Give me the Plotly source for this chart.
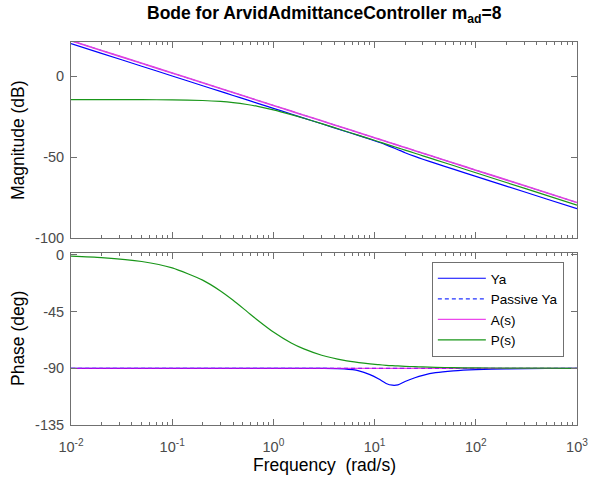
import plotly.graph_objects as go

# ---------------- data ----------------
freq = [0.01, 0.02, 0.05, 0.1, 0.2, 0.3, 0.4, 0.55, 0.7, 1, 1.5, 2, 3, 5, 7, 9,
        11, 13, 15, 17, 20, 25, 30, 40, 60, 100, 200, 500, 1000]

ya_mag = [20.2, 14.18, 6.22, 0.2, -5.82, -9.34, -11.84, -14.61, -16.7, -19.8,
          -23.32, -25.82, -29.34, -33.78, -36.7, -38.93, -40.78, -42.38, -43.92,
          -45.36, -47.22, -49.51, -51.24, -53.84, -57.41, -61.85, -67.87, -75.83, -81.85]
passive_mag = [22.0, 15.98, 8.02, 2.0, -4.02, -7.54, -10.04, -12.81, -14.9, -18.0,
               -21.52, -24.02, -27.54, -31.98, -34.9, -37.08, -38.83, -40.28, -41.52,
               -42.61, -44.02, -45.96, -47.54, -50.04, -53.56, -58.0, -64.02, -71.98, -78.0]
a_mag = [22.0, 15.98, 8.02, 2.0, -4.02, -7.54, -10.04, -12.81, -14.9, -18.0,
         -21.52, -24.02, -27.54, -31.98, -34.9, -37.08, -38.83, -40.28, -41.52,
         -42.61, -44.02, -45.96, -47.54, -50.04, -53.56, -58.0, -64.02, -71.98, -78.0]
p_mag = [-14.4, -14.41, -14.44, -14.55, -14.95, -15.54, -16.25, -17.42, -18.59, -20.75,
         -23.67, -25.94, -29.29, -33.63, -36.53, -38.7, -40.44, -41.89, -43.13,
         -44.21, -45.62, -47.56, -49.14, -51.64, -55.16, -59.6, -65.62, -73.58, -79.6]

ya_phase = [-90.0, -90.0, -90.0, -90.0, -90.0, -90.0, -90.0, -90.0, -90.0, -90.0,
            -90.0, -90.0, -90.1, -90.5, -92.0, -95.0, -98.5, -102.0, -103.4,
            -103.1, -100.5, -97.5, -95.6, -93.5, -92.0, -91.0, -90.4, -90.15, -90.1]
passive_phase = [-90.0, -90.0, -90.0, -90.0, -90.0, -90.0, -90.0, -90.0, -90.0, -90.0,
                 -90.0, -90.0, -90.0, -90.0, -90.0, -90.0, -90.0, -90.0, -90.0,
                 -90.0, -90.0, -90.0, -90.0, -90.0, -90.0, -90.0, -90.0, -90.0, -90.0]
a_phase = [-90.0, -90.0, -90.0, -90.0, -90.0, -90.0, -90.0, -90.0, -90.0, -90.0,
           -90.0, -90.0, -90.0, -90.0, -90.0, -90.0, -90.0, -90.0, -90.0,
           -90.0, -90.0, -90.0, -90.0, -90.0, -90.0, -90.0, -90.0, -90.0, -90.0]
p_phase = [-1.0, -2.1, -5.2, -10.3, -20.0, -28.6, -36.0, -45.0, -51.8, -61.2,
           -69.9, -74.6, -79.6, -83.7, -85.5, -86.5, -87.1, -87.6, -87.9,
           -88.1, -88.4, -88.7, -88.9, -89.2, -89.5, -89.7, -89.8, -89.9, -90.0]

series_names = ["Ya", "Passive Ya", "A(s)", "P(s)"]

x_tickvals = [0.01, 0.1, 1, 10, 100, 1000]
x_ticktext = ["10<sup>-2</sup>", "10<sup>-1</sup>", "10<sup>0</sup>",
              "10<sup>1</sup>", "10<sup>2</sup>", "10<sup>3</sup>"]
mag_tickvals = [-100, -50, 0]
mag_ticktext = ["-100", "-50", "0"]
phase_tickvals = [-135, -90, -45, 0]
phase_ticktext = ["-135", "-90", "-45", "0"]

# ---------------- styling ----------------
FONT = "Liberation Sans, Arial, sans-serif"
AX = "#707070"
TK = "#4a4a4a"
mag_styles = [
    dict(color="#0000FF", width=1.2, dash="solid"),
    dict(color="#2233FF", width=1.0, dash="4px,3px"),
    dict(color="#E040E0", width=1.6, dash="solid"),
    dict(color="rgb(25,150,25)", width=1.2, dash="solid"),
]
phase_styles = [
    dict(color="#0000FF", width=1.2, dash="solid"),
    dict(color="#2233FF", width=1.2, dash="4px,3px"),
    dict(color="rgba(228,0,228,0.72)", width=1.3, dash="solid"),
    dict(color="rgb(25,150,25)", width=1.2, dash="solid"),
]

fig = go.Figure()
mags = [ya_mag, passive_mag, a_mag, p_mag]
phases = [ya_phase, passive_phase, a_phase, p_phase]
for name, m, st in zip(series_names, mags, mag_styles):
    fig.add_trace(go.Scatter(x=freq, y=m, mode="lines", name=name,
                             line=dict(shape="spline", smoothing=0.6, **st),
                             xaxis="x", yaxis="y", showlegend=False))
for name, p, st in zip(series_names, phases, phase_styles):
    fig.add_trace(go.Scatter(x=freq, y=p, mode="lines", name=name,
                             line=dict(shape="spline", smoothing=0.6, **st),
                             xaxis="x2", yaxis="y2", showlegend=True))

common_x = dict(type="log", range=[-2, 3], showgrid=False, zeroline=False,
                showline=True, linecolor=AX, linewidth=1, mirror="ticks",
                ticks="inside", ticklen=6, tickcolor=AX, tickwidth=1,
                tickvals=x_tickvals, ticktext=x_ticktext, automargin=False,
                tickfont=dict(family=FONT, size=14.5, color=TK),
                minor=dict(ticks="inside", ticklen=3, tickcolor=AX, tickwidth=1,
                           dtick="D1", showgrid=False))
common_y = dict(showgrid=False, zeroline=False, showline=True, linecolor=AX,
                linewidth=1, mirror="ticks", ticks="inside", ticklen=6,
                tickcolor=AX, tickwidth=1, automargin=False, ticklabelstandoff=3,
                tickfont=dict(family=FONT, size=14.5, color=TK))

fig.update_layout(
    width=589, height=483,
    margin=dict(l=71, r=12, t=42, b=58, autoexpand=False),
    paper_bgcolor="white", plot_bgcolor="white",
    font=dict(family=FONT, color="black"),
    xaxis=dict(anchor="y", domain=[0, 1], showticklabels=False, **common_x),
    yaxis=dict(anchor="x", domain=[0.488, 1], range=[-100, 21.2],
               tickvals=mag_tickvals, ticktext=mag_ticktext, **common_y),
    xaxis2=dict(anchor="y2", domain=[0, 1], ticklabelstandoff=9, **common_x),
    yaxis2=dict(anchor="x2", domain=[0, 0.448], range=[-135, 1.2],
                tickvals=phase_tickvals, ticktext=phase_ticktext, **common_y),
    legend=dict(x=0.974, xanchor="right", y=0.4256, yanchor="top",
                bgcolor="white", bordercolor=AX, borderwidth=1,
                font=dict(family=FONT, size=13.5, color="black"),
                itemwidth=48, tracegroupgap=0),
    showlegend=True,
    annotations=[
        dict(text="<b>Bode for ArvidAdmittanceController m<sub>ad</sub>=8</b>",
             xref="paper", yref="paper", x=0.5, y=1 + 27 / 383, xanchor="center",
             yanchor="middle", showarrow=False,
             font=dict(family=FONT, size=17.5, color="black")),
        dict(text="Magnitude (dB)", xref="paper", yref="paper",
             x=-53 / 506, y=0.744, xanchor="center", yanchor="middle",
             textangle=-90, showarrow=False,
             font=dict(family=FONT, size=17.5, color="black")),
        dict(text="Phase (deg)", xref="paper", yref="paper",
             x=-53 / 506, y=0.2245, xanchor="center", yanchor="middle",
             textangle=-90, showarrow=False,
             font=dict(family=FONT, size=17.5, color="black")),
        dict(text="Frequency  (rad/s)", xref="paper", yref="paper",
             x=0.5, y=-40 / 383, xanchor="center", yanchor="middle",
             showarrow=False, font=dict(family=FONT, size=17.5, color="black")),
    ],
)

fig.write_html("out.html")
